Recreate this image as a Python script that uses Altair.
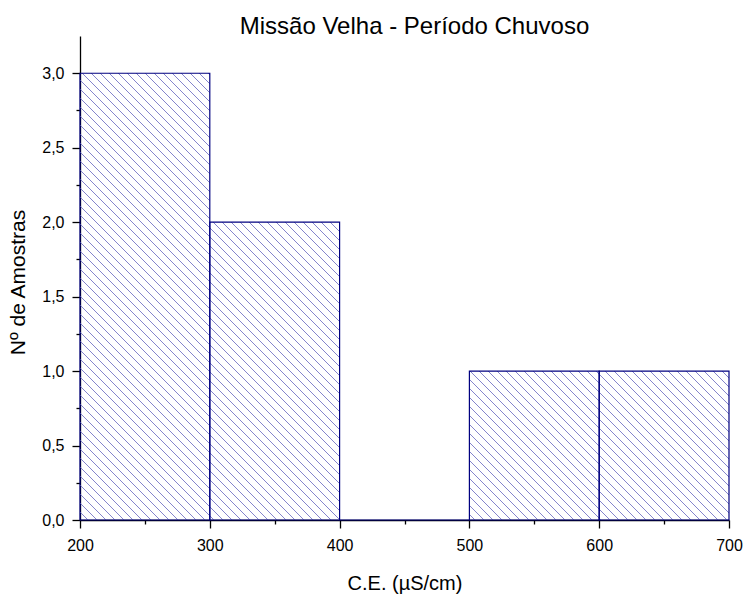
import altair as alt
import pandas as pd
import numpy as np

# ---- data ----
bin_start = [200, 300, 400, 500, 600]
bin_end = [300, 400, 500, 600, 700]
counts = [3, 2, 0, 1, 1]

x_major = [200, 300, 400, 500, 600, 700]
x_minor = [250, 350, 450, 550, 650]
y_major = [0.0, 0.5, 1.0, 1.5, 2.0, 2.5, 3.0]
y_minor = [0.25, 0.75, 1.25, 1.75, 2.25, 2.75]

title = "Missão Velha - Período Chuvoso"
x_title = "C.E. (µS/cm)"
y_title = "Nº de Amostras"

# ---- layout ----
W, H = 649, 484
PAD_L, PAD_T = 80, 36
XD = [200, 700]
YD = [0, 3.25]
FONT = "Liberation Sans"
NAVY = "#000080"
HATCH = "#8585cc"
SPACING = 9  # hatch spacing in pixels (integer -> consistent rendering)

df = pd.DataFrame({"x0": bin_start, "x1": bin_end, "count": counts})

# hatch segments (45 deg, top-left to bottom-right), clipped to each bar,
# aligned to a global pixel grid so every bar renders alike
px = W / (XD[1] - XD[0])
py = H / (YD[1] - YD[0])


def to_px(x, y):
    return PAD_L + (x - XD[0]) * px, PAD_T + (YD[1] - y) * py


def to_data(X, Y):
    return XD[0] + (X - PAD_L) / px, YD[1] - (Y - PAD_T) / py


rows = []
for x0, x1, c in zip(bin_start, bin_end, counts):
    if c <= 0:
        continue
    Xa, Yt = to_px(x0, c)
    Xb, Yb = to_px(x1, 0)
    d = int(np.ceil((Xa - Yb) / SPACING)) * SPACING
    while d < Xb - Yt:
        if d <= Xa - Yt:
            sX, sY = Xa, Xa - d
        else:
            sX, sY = d + Yt, Yt
        if d + Yb <= Xb:
            eX, eY = d + Yb, Yb
        else:
            eX, eY = Xb, Xb - d
        if eX - sX > 0.5:
            a = to_data(sX, sY)
            b = to_data(eX, eY)
            rows.append({"hx0": a[0], "hy0": a[1], "hx1": b[0], "hy1": b[1]})
        d += SPACING
hatch_df = pd.DataFrame(rows)

xscale = alt.Scale(domain=XD, nice=False, zero=False)
yscale = alt.Scale(domain=YD, nice=False)

lab_expr = "replace(format(datum.value, '.1f'), '.', ',')"

hatch = alt.Chart(hatch_df).mark_rule(color=HATCH, strokeWidth=1).encode(
    x=alt.X("hx0:Q", scale=xscale,
            axis=alt.Axis(values=x_major, title=x_title, tickSize=8,
                          labelPadding=9, titlePadding=20, format="d",
                          labelFlush=False, orient="bottom")),
    x2="hx1:Q",
    y=alt.Y("hy0:Q", scale=yscale,
            axis=alt.Axis(values=y_major, title=y_title, tickSize=8,
                          labelPadding=8, titlePadding=13, labelExpr=lab_expr,
                          labelFlush=False, orient="left", titleFontSize=21,
                          titleY=246)),
    y2="hy1:Q",
)

bars = alt.Chart(df).mark_rect(fillOpacity=0, stroke=NAVY, strokeWidth=1.2).encode(
    x=alt.X("x0:Q", scale=xscale,
            axis=alt.Axis(values=x_minor, labels=False, title=None, tickSize=4,
                          domain=False, orient="bottom")),
    x2="x1:Q",
    y=alt.Y("count:Q", scale=yscale,
            axis=alt.Axis(values=y_minor, labels=False, title=None, tickSize=4,
                          domain=False, orient="left")),
    y2=alt.datum(0),
)

chart = alt.layer(hatch, bars).resolve_axis(x="independent", y="independent").properties(
    width=W,
    height=H,
    background="white",
    autosize=alt.AutoSizeParams(type="none"),
    padding={"left": PAD_L, "top": PAD_T, "right": 18, "bottom": 76},
    title=alt.TitleParams(title, fontSize=24, font=FONT, fontWeight="normal",
                          anchor="middle", dx=10, offset=-3, color="black"),
).configure_view(stroke=None).configure_axis(
    grid=False,
    domainColor="black",
    domainWidth=1.3,
    tickColor="black",
    tickWidth=1.3,
    labelFont=FONT,
    labelFontSize=16,
    labelColor="black",
    titleFont=FONT,
    titleFontSize=20,
    titleFontWeight="normal",
    titleColor="black",
)

chart.save("out.html", embed_options={"renderer": "svg", "actions": False})
